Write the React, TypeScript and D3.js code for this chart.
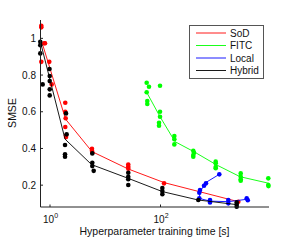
import React, { useRef, useEffect } from 'react'
import * as d3 from 'd3'

// individual runs: [training time (s), SMSE]
const sodPoints = [
  [0.696, 1.069], [0.696, 1.06], [0.789, 0.973], [0.812, 0.973], [0.696, 0.872], [0.971, 0.872], [1.073, 0.749],
  [1.89, 0.649], [1.89, 0.6], [1.92, 0.565], [1.89, 0.517], [1.95, 0.47], [1.95, 0.462],
  [5.75, 0.398], [5.75, 0.388], [5.83, 0.378],
  [26.1, 0.312], [26.1, 0.3], [26.1, 0.29],
  [116, 0.21], [2560, 0.11],
]
const sodLine = [[0.717, 0.977], [1.91, 0.56], [5.75, 0.383], [26.1, 0.288], [116, 0.214], [2560, 0.11]]

const fitcPoints = [
  [56.2, 0.758], [61.9, 0.736], [98, 0.742], [56.2, 0.706], [57.7, 0.658], [57.7, 0.642],
  [98, 0.6], [98, 0.573], [94, 0.54], [94, 0.524],
  [178, 0.468], [178, 0.45], [178, 0.422],
  [392, 0.387], [404, 0.377], [392, 0.364], [392, 0.355],
  [998, 0.328], [998, 0.319], [998, 0.299], [998, 0.292],
  [2830, 0.264], [2830, 0.246], [2830, 0.232], [2830, 0.224],
  [8930, 0.237], [8930, 0.201], [9000, 0.195],
]
const fitcLine = [[56.2, 0.706], [98, 0.573], [183, 0.437], [404, 0.382], [1040, 0.31], [2760, 0.246], [9200, 0.21]]

const localPoints = [
  [1160, 0.259], [666, 0.21], [613, 0.197], [519, 0.173], [504, 0.159], [504, 0.128],
  [787, 0.119], [787, 0.106], [1687, 0.119], [1687, 0.101], [3633, 0.128], [3800, 0.118],
]
const localLine = [[1160, 0.259], [666, 0.215], [519, 0.164], [504, 0.128], [787, 0.113], [1687, 0.11], [3633, 0.123]]

const hybridPoints = [
  [0.667, 0.981], [0.667, 0.963], [0.667, 0.918], [0.737, 0.749],
  [0.98, 0.833], [0.988, 0.795], [0.988, 0.767], [0.988, 0.722], [0.988, 0.689],
  [1.95, 0.591], [2.0, 0.477], [1.87, 0.419], [1.87, 0.368], [1.87, 0.355],
  [5.83, 0.373], [5.83, 0.322], [5.83, 0.304], [6.18, 0.278],
  [26.1, 0.268], [26.1, 0.246], [26.1, 0.232], [26.1, 0.201],
  [108, 0.184], [108, 0.168], [108, 0.151],
  [483, 0.119],
  [2393, 0.106], [2393, 0.094], [2393, 0.082],
]
const hybridLine = [[0.674, 0.978], [1.87, 0.451], [5.66, 0.312], [26.1, 0.237], [108, 0.165], [483, 0.119], [2393, 0.094]]

const seriesNames = ['SoD', 'FITC', 'Local', 'Hybrid']
const seriesColors = ['#ff0000', '#00ff00', '#0000ff', '#000000']
const yTicks = [0.2, 0.4, 0.6, 0.8, 1]
const xTickExps = [0, 2]

const App = () => {
  const visEl = useRef(null)
  const width = 300
  const height = 241

  useEffect(() => {
    const svg = d3.select(visEl.current)
    svg.selectAll('*').remove()
    const font = 'Liberation Sans, Arial, sans-serif'

    const xScale = d3.scaleLog().domain([0.673, 9200]).range([40.5, 269])
    const yScale = d3.scaleLinear().domain([0.081, 1.1]).range([207, 20])
    const line = d3.line().x(d => xScale(d[0])).y(d => yScale(d[1]))

    const all = [
      [sodPoints, sodLine],
      [fitcPoints, fitcLine],
      [localPoints, localLine],
      [hybridPoints, hybridLine],
    ]
    all.forEach(([pts, ln], i) => {
      const g = svg.append('g')
      g.append('path').attr('d', line(ln)).attr('fill', 'none')
        .attr('stroke', seriesColors[i]).attr('stroke-width', 0.9)
      g.selectAll('circle').data(pts).enter().append('circle')
        .attr('cx', d => xScale(d[0])).attr('cy', d => yScale(d[1]))
        .attr('r', 2.3).attr('fill', seriesColors[i])
    })

    // axes
    const axis = svg.append('g')
    axis.append('line').attr('x1', 40.5).attr('x2', 40.5).attr('y1', 20).attr('y2', 207)
      .attr('stroke', '#222').attr('stroke-width', 1)
    axis.append('line').attr('x1', 40.5).attr('x2', 269).attr('y1', 207).attr('y2', 207)
      .attr('stroke', '#222').attr('stroke-width', 1)

    yTicks.forEach(t => {
      const y = yScale(t)
      axis.append('line').attr('x1', 40.5).attr('x2', 43).attr('y1', y).attr('y2', y).attr('stroke', '#222')
      axis.append('text').attr('x', 36).attr('y', y + 3.6).attr('text-anchor', 'end')
        .attr('font-family', font).attr('font-size', 10).attr('fill', '#111').text(String(t))
    })
    xTickExps.forEach(e => {
      const x = xScale(Math.pow(10, e))
      axis.append('line').attr('x1', x).attr('x2', x).attr('y1', 207).attr('y2', 204.5).attr('stroke', '#222')
      const tx = axis.append('text').attr('x', x - 7).attr('y', 223)
        .attr('font-family', font).attr('font-size', 10).attr('fill', '#111')
      tx.append('tspan').text('10')
      tx.append('tspan').attr('dy', -5).attr('font-size', 7).text(String(e))
    })

    svg.append('text').attr('x', 154.5).attr('y', 235).attr('text-anchor', 'middle')
      .attr('font-family', font).attr('font-size', 10.5).attr('fill', '#111')
      .text('Hyperparameter training time [s]')
    svg.append('text').attr('transform', 'translate(15.5,113) rotate(-90)').attr('text-anchor', 'middle')
      .attr('font-family', font).attr('font-size', 10.5).attr('fill', '#111').text('SMSE')

    // legend
    const lg = svg.append('g')
    lg.append('rect').attr('x', 189.5).attr('y', 25.5).attr('width', 74).attr('height', 53)
      .attr('fill', 'white').attr('stroke', '#555').attr('stroke-width', 1)
    seriesNames.forEach((name, i) => {
      const y = 33 + i * 12.5
      lg.append('line').attr('x1', 196).attr('x2', 226).attr('y1', y).attr('y2', y)
        .attr('stroke', seriesColors[i]).attr('stroke-width', 0.9)
      lg.append('text').attr('x', 230).attr('y', y + 3.6)
        .attr('font-family', font).attr('font-size', 10).attr('fill', '#111').text(name)
    })
  })

  return (
    <div>
      <style>{'body{margin:0}'}</style>
      <svg ref={visEl} width={width} height={height} style={{ display: 'block' }}></svg>
    </div>
  )
}

export default App
